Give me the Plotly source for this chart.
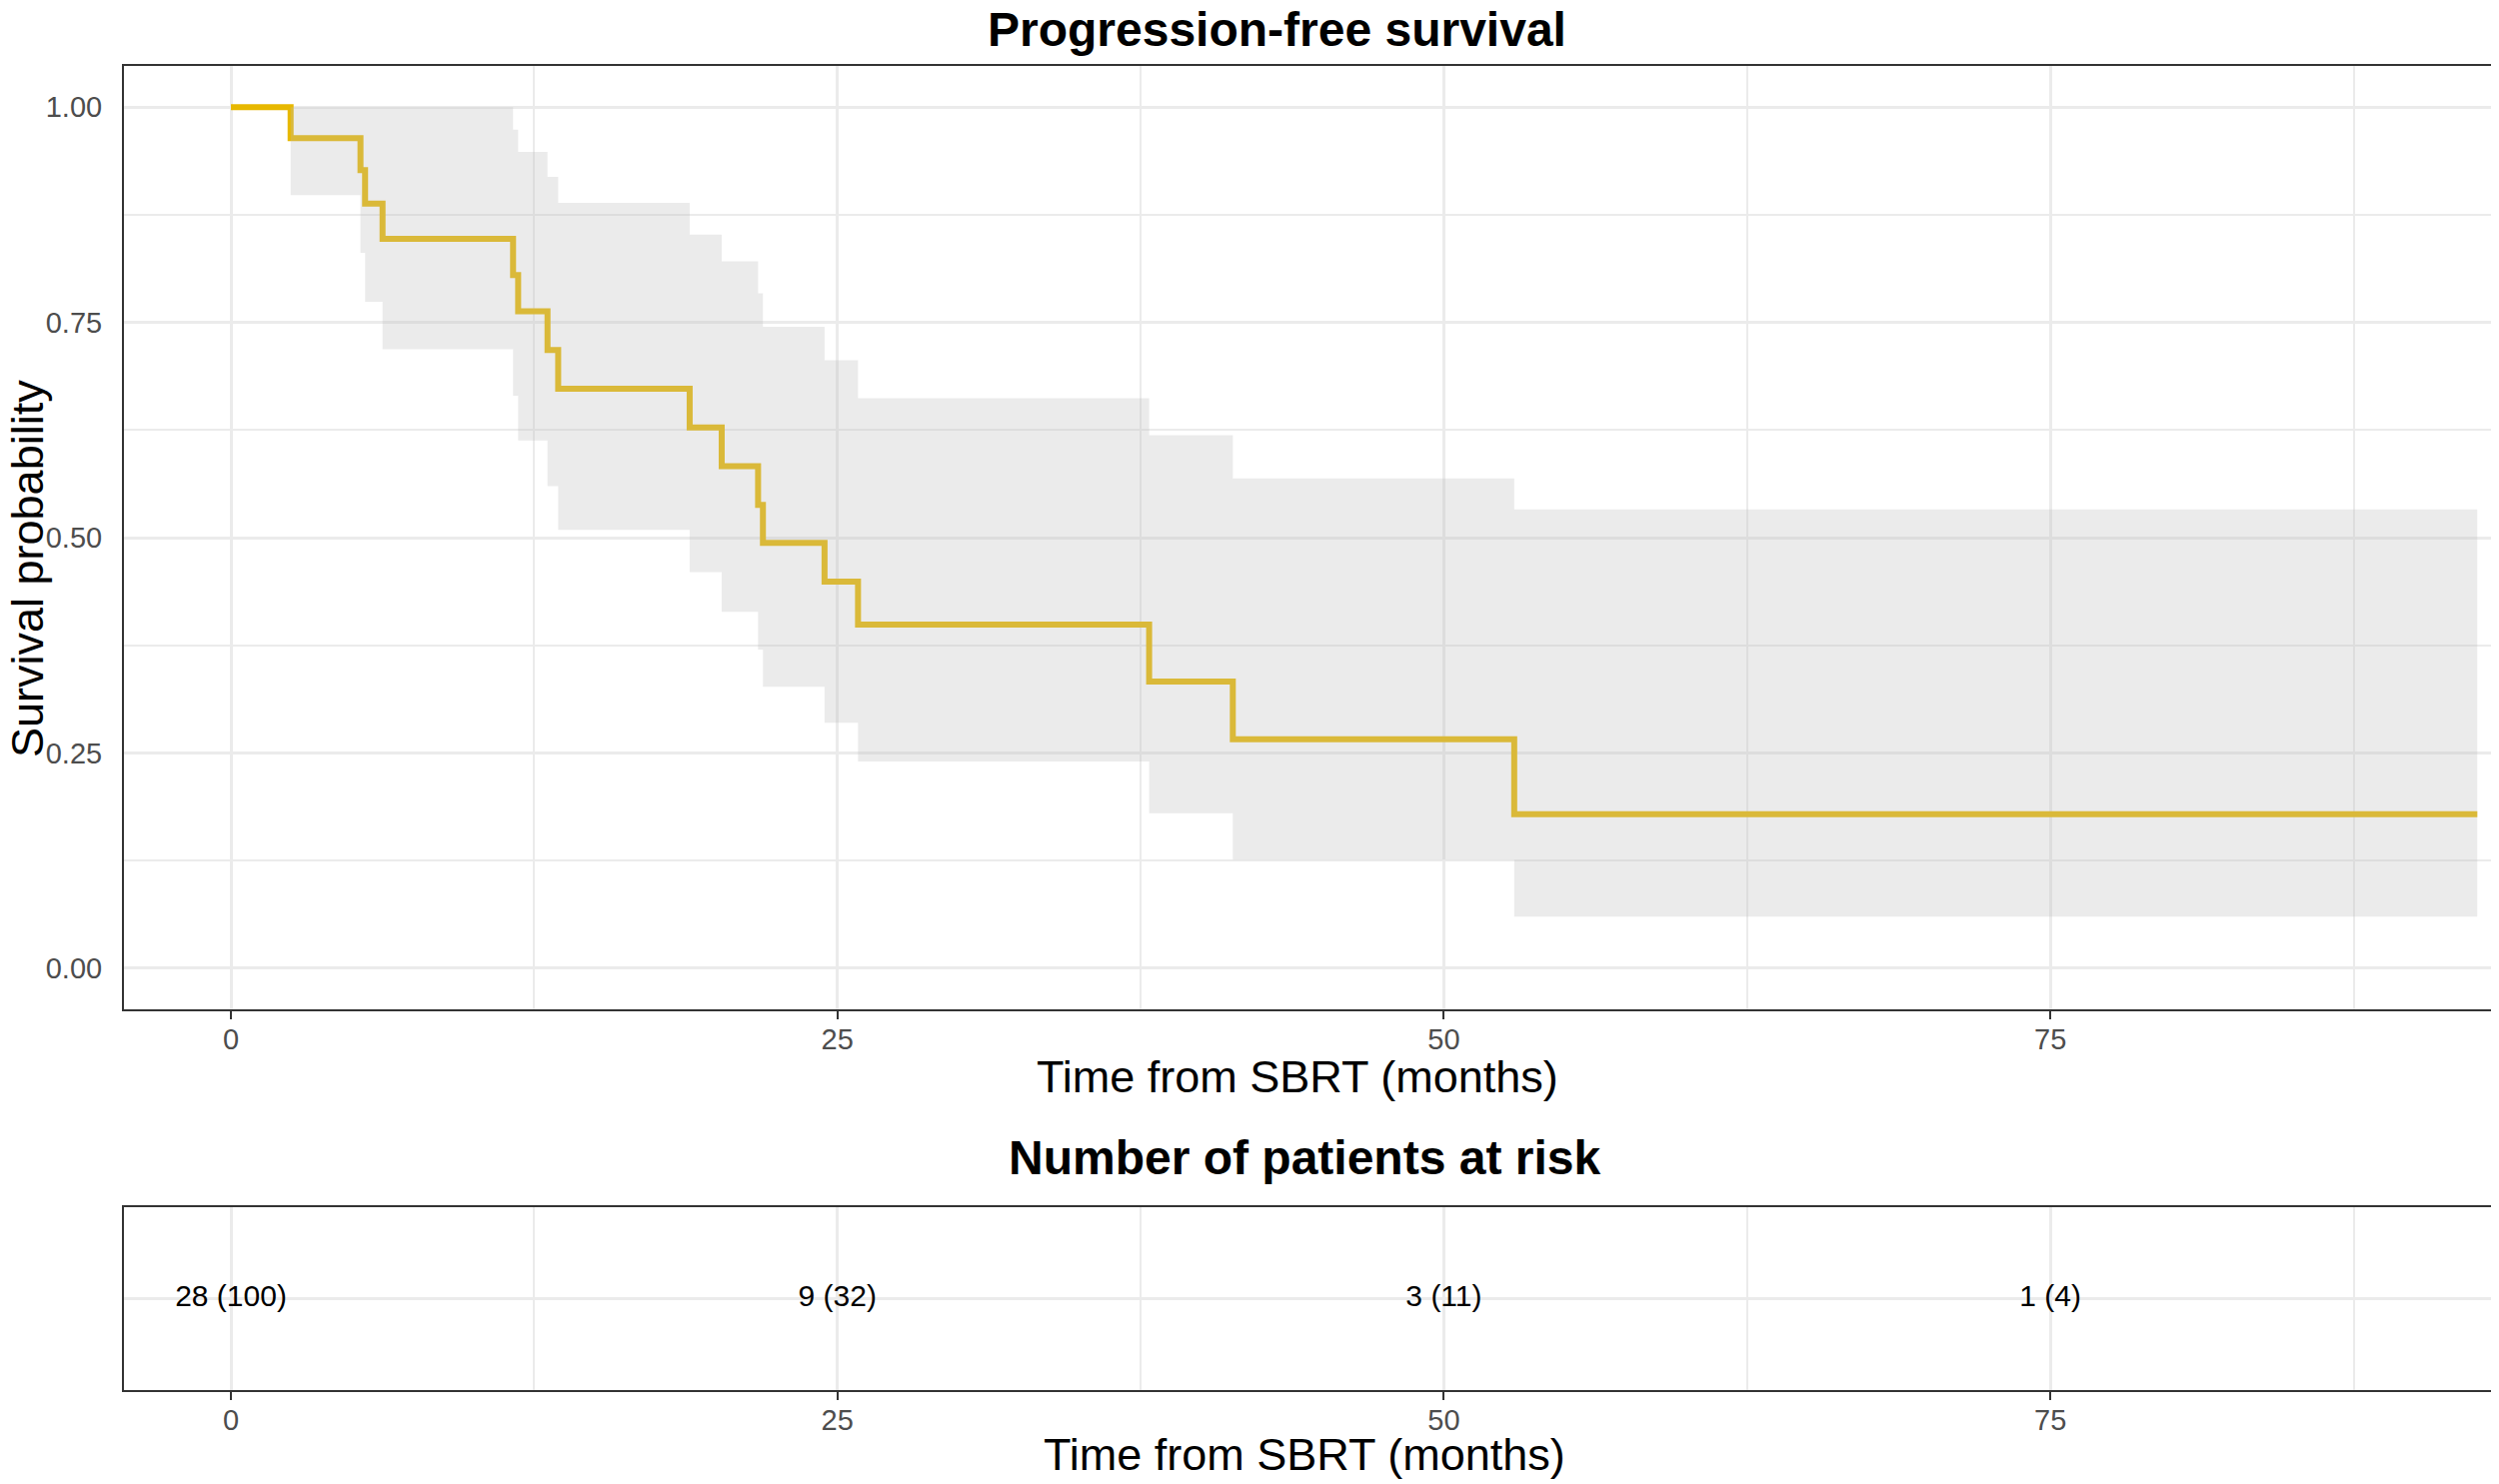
import plotly.graph_objects as go

# ---- data ----
time_pts = [0, 2.46, 5.34, 5.53, 6.25, 11.63, 11.84, 13.05, 13.49, 18.91, 20.23,
            21.73, 21.93, 24.47, 25.85, 37.85, 41.3, 52.9, 92.6]
surv = [1.0, 0.964, 0.927, 0.888, 0.847, 0.805, 0.763, 0.718, 0.673, 0.628, 0.583,
        0.538, 0.494, 0.449, 0.399, 0.333, 0.266, 0.179, 0.179]
upper = [1.0, 1.0, 1.0, 1.0, 1.0, 0.974, 0.948, 0.919, 0.889, 0.852, 0.821,
         0.784, 0.745, 0.706, 0.662, 0.619, 0.569, 0.533, 0.533]
lower = [1.0, 0.898, 0.831, 0.774, 0.719, 0.665, 0.613, 0.560, 0.509, 0.460, 0.414,
         0.370, 0.327, 0.285, 0.240, 0.180, 0.126, 0.060, 0.060]

risk_times = [0, 25, 50, 75]
n_risk = [28, 9, 3, 1]
pct_risk = [100, 32, 11, 4]
risk_labels = [f"{n} ({p})" for n, p in zip(n_risk, pct_risk)]

x_ticks = [0, 25, 50, 75]
x_minor = [12.5, 37.5, 62.5, 87.5]
y_ticks = [0, 0.25, 0.5, 0.75, 1.0]
y_ticktext = ["0.00", "0.25", "0.50", "0.75", "1.00"]
y_minor = [0.125, 0.375, 0.625, 0.875]

# page has an 8px body margin; compensate so the picture lines up
OFF = 8
W, H = 2500 - OFF, 1485 - OFF
FONT = "Liberation Sans, Arial, sans-serif"
GRID = "#EBEBEB"
BORDER = "#333333"


def px(v):
    return (v - OFF) / W


def py(v):
    return 1 - (v - OFF) / H


fig = go.Figure()

# survival line (drawn first; ribbon overlays it semi-transparently)
fig.add_trace(go.Scatter(x=time_pts, y=surv, mode="lines", line=dict(shape="hv", color="#E7B800", width=6),
                         xaxis="x", yaxis="y", showlegend=False, hoverinfo="skip"))
# confidence ribbon
fig.add_trace(go.Scatter(x=time_pts, y=lower, mode="lines", line=dict(shape="hv", width=0, color="rgba(0,0,0,0)"),
                         xaxis="x", yaxis="y", showlegend=False, hoverinfo="skip"))
fig.add_trace(go.Scatter(x=time_pts, y=upper, mode="lines", line=dict(shape="hv", width=0, color="rgba(0,0,0,0)"),
                         fill="tonexty", fillcolor="rgba(190,190,190,0.3)",
                         xaxis="x", yaxis="y", showlegend=False, hoverinfo="skip"))

# risk table text
fig.add_trace(go.Scatter(x=risk_times, y=[1] * len(risk_times), mode="text", text=risk_labels,
                         textfont=dict(family=FONT, size=30, color="black"),
                         xaxis="x2", yaxis="y2", showlegend=False, hoverinfo="skip"))

xdom = [px(124), min(1.0, px(2496))]
xrange = [-4.41, 93.33]

common_x = dict(range=xrange, domain=xdom, tickvals=x_ticks, ticktext=[str(v) for v in x_ticks],
                showgrid=True, gridcolor=GRID, gridwidth=3,
                minor=dict(tickvals=x_minor, showgrid=True, gridcolor=GRID, gridwidth=1.5, ticks=""),
                showline=True, linecolor=BORDER, linewidth=2, mirror=True,
                ticks="outside", ticklen=8, tickwidth=2, tickcolor=BORDER,
                ticklabelstandoff=-5,
                tickfont=dict(family=FONT, size=29, color="#4D4D4D"),
                zeroline=False, fixedrange=True)

fig.update_layout(
    width=W, height=H,
    margin=dict(l=0, r=0, t=0, b=0),
    paper_bgcolor="white", plot_bgcolor="white",
    xaxis=dict(anchor="y", **common_x),
    yaxis=dict(domain=[py(1010), py(65.5)], range=[-0.0477, 1.0485], anchor="x",
               tickvals=y_ticks, ticktext=y_ticktext,
               showgrid=True, gridcolor=GRID, gridwidth=3,
               minor=dict(tickvals=y_minor, showgrid=True, gridcolor=GRID, gridwidth=1.5, ticks=""),
               showline=True, linecolor=BORDER, linewidth=2, mirror=True,
               ticks="", ticklabelstandoff=14,
               tickfont=dict(family=FONT, size=29, color="#4D4D4D"),
               zeroline=False, fixedrange=True),
    xaxis2=dict(anchor="y2", **common_x),
    yaxis2=dict(domain=[py(1391), py(1208)], range=[0, 2], anchor="x2",
                tickvals=[1], showticklabels=False, ticks="",
                showgrid=True, gridcolor=GRID, gridwidth=3,
                showline=True, linecolor=BORDER, linewidth=2, mirror=True,
                zeroline=False, fixedrange=True),
)


def ann(text, x, y, size, bold=False, angle=0, color="black"):
    fig.add_annotation(text=f"<b>{text}</b>" if bold else text, x=px(x), y=py(y),
                       xref="paper", yref="paper", xanchor="center", yanchor="middle",
                       showarrow=False, textangle=angle,
                       font=dict(family=FONT, size=size, color=color))


ann("Progression-free survival", 1277, 30, 48, bold=True)
ann("Time from SBRT (months)", 1298, 1077, 45)
ann("Number of patients at risk", 1305, 1158, 48, bold=True)
ann("Time from SBRT (months)", 1305, 1455, 45)
ann("Survival probability", 28, 569, 45, angle=-90)

fig.write_html("out.html")
